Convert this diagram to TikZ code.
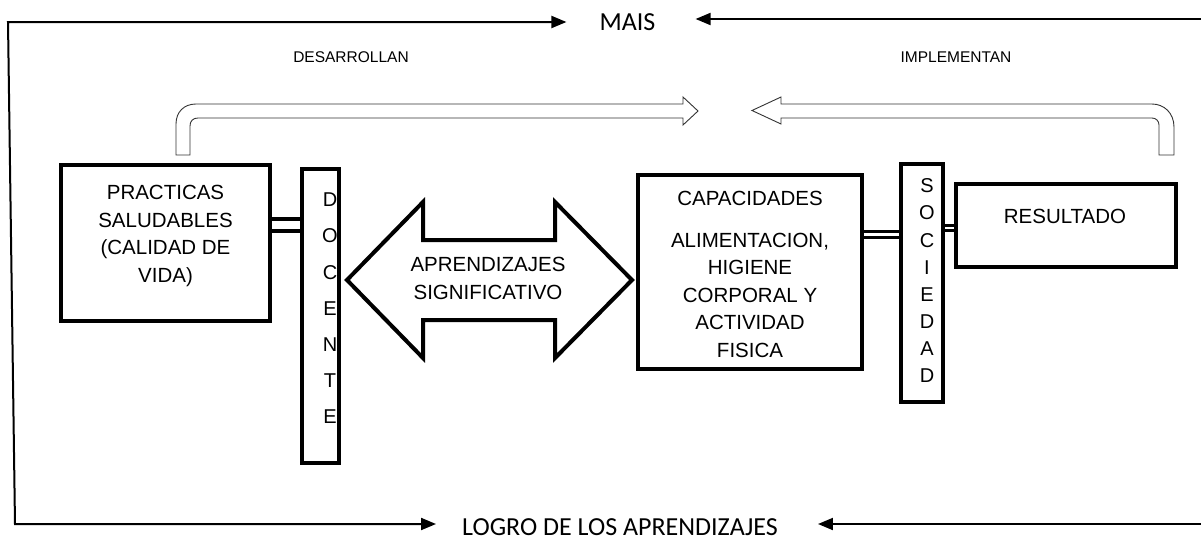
\documentclass[tikz,border=0pt]{standalone}
\usepackage{fontspec}
\setmainfont{Liberation Sans}
\newfontfamily\calibri{Carlito}
\usetikzlibrary{arrows.meta,backgrounds}

\begin{document}
\begin{tikzpicture}[x=1pt,y=-1pt,
	caja/.style={draw,line width=4pt,rectangle,inner sep=0pt},
	txt/.style={font=\fontsize{20.5}{27.5}\selectfont,align=center,inner sep=0pt},
	letra/.style={font=\fontsize{20}{24}\selectfont,inner sep=0pt},
	chico/.style={font=\fontsize{15.5}{18}\selectfont,inner sep=0pt},
	grande/.style={font=\calibri\fontsize{26}{30}\selectfont,inner sep=0pt},
	marco/.style={line width=2pt,{Triangle[length=15pt,width=12pt]}-{Triangle[length=15pt,width=12pt]}},
	flecha/.style={line width=2pt,-{Triangle[length=15pt,width=12pt]}},
	hueco/.style={draw=black!80,line width=0.9pt,fill=white},
	enlace/.style={draw,double=white,line width=4pt,double distance=8pt}]
	\useasboundingbox (0,0) rectangle (1201,541);

	\node[caja,minimum width=209pt,minimum height=156pt] (prac) at (165.5,243) {};
	\node[txt] (practxt) at (165.5,236) {PRACTICAS\\SALUDABLES\\(CALIDAD DE\\VIDA)};
	\node[caja,minimum width=37pt,minimum height=294pt] (docente) at (320.5,316) {};
	\foreach \l [count=\i from 0] in {D,O,C,E,N,T,E}
		\node[letra] (doc\i) at (330,200+36.1*\i) {\l};

	\draw[line width=4pt] (347,280) -- (423,202) -- (423,240) -- (555,240) -- (555,202) -- (632,280) -- (555,358) -- (555,320) -- (423,320) -- (423,358) -- cycle;
	\node[txt] (aprend) at (488,278.5) {APRENDIZAJES\\SIGNIFICATIVO};

	\node[caja,minimum width=224pt,minimum height=194pt] (capac) at (750,272) {};
	\node[txt] (capactxt) at (750,274) {CAPACIDADES\\[14.5pt]ALIMENTACION,\\HIGIENE\\CORPORAL Y\\ACTIVIDAD\\FISICA};
	\node[caja,minimum width=42pt,minimum height=238pt] (sociedad) at (922,283) {};
	\foreach \l [count=\i from 0] in {S,O,C,I,E,D,A,D}
		\node[letra] (soc\i) at (927,186+27.1*\i) {\l};
	\node[caja,minimum width=220pt,minimum height=83pt] (result) at (1066,225.5) {};
	\node[txt] (resulttxt) at (1065,216) {RESULTADO};

	\begin{scope}[on background layer]
		\draw[enlace] ([yshift=18pt]prac.east) -- ([yshift=18pt]prac.east -| docente.west);
		\draw[enlace,line width=3pt,double distance=3.5pt] ([yshift=37.5pt]capac.east) -- ([yshift=37.5pt]capac.east -| sociedad.west);
		\draw[enlace,line width=3pt,double distance=2.5pt] ([yshift=-2.5pt]result.west) -- ([yshift=-2.5pt]result.west -| sociedad.east);
	\end{scope}

	\draw[hueco] (176,155) -- (176,124) .. controls (176,112) and (184,104) .. (196,104) -- (683,104) -- (683,97) -- (698,111) -- (683,125) -- (683,118) -- (198,118) .. controls (193,118) and (190,121) .. (190,126) -- (190,155) -- cycle;
	\draw[hueco] (1174,155) -- (1174,127) .. controls (1174,113) and (1164,104) .. (1152,104) -- (781,104) -- (781,97) -- (752,110.5) -- (781,124) -- (781,118) -- (1152,118) .. controls (1156,118) and (1159,121) .. (1159,125) -- (1159,155) -- cycle;
	\node[chico] (desarr) at (351,57) {DESARROLLAN};
	\node[chico] (implem) at (956,57) {IMPLEMENTAN};

	\node[grande] (mais) at (627.5,22) {MAIS};
	\node[grande,anchor=base] (logro) at (620,535.5) {LOGRO DE LOS APRENDIZAJES};
	\coordinate (esq1) at (8,22);
	\coordinate (esq2) at (15,524);
	\coordinate (der1) at (1203,19);
	\coordinate (der2) at (1203,524);
	\draw[marco] ([xshift=-26pt,yshift=11.5pt]logro.base west) -- (esq2) -- (esq1) -- ([xshift=-33pt]mais.west);
	\draw[flecha] (der1) -- ([xshift=40pt,yshift=3pt]mais.east);
	\draw[flecha] (der2) -- ([xshift=40pt,yshift=11.5pt]logro.base east);
\end{tikzpicture}
\end{document}
